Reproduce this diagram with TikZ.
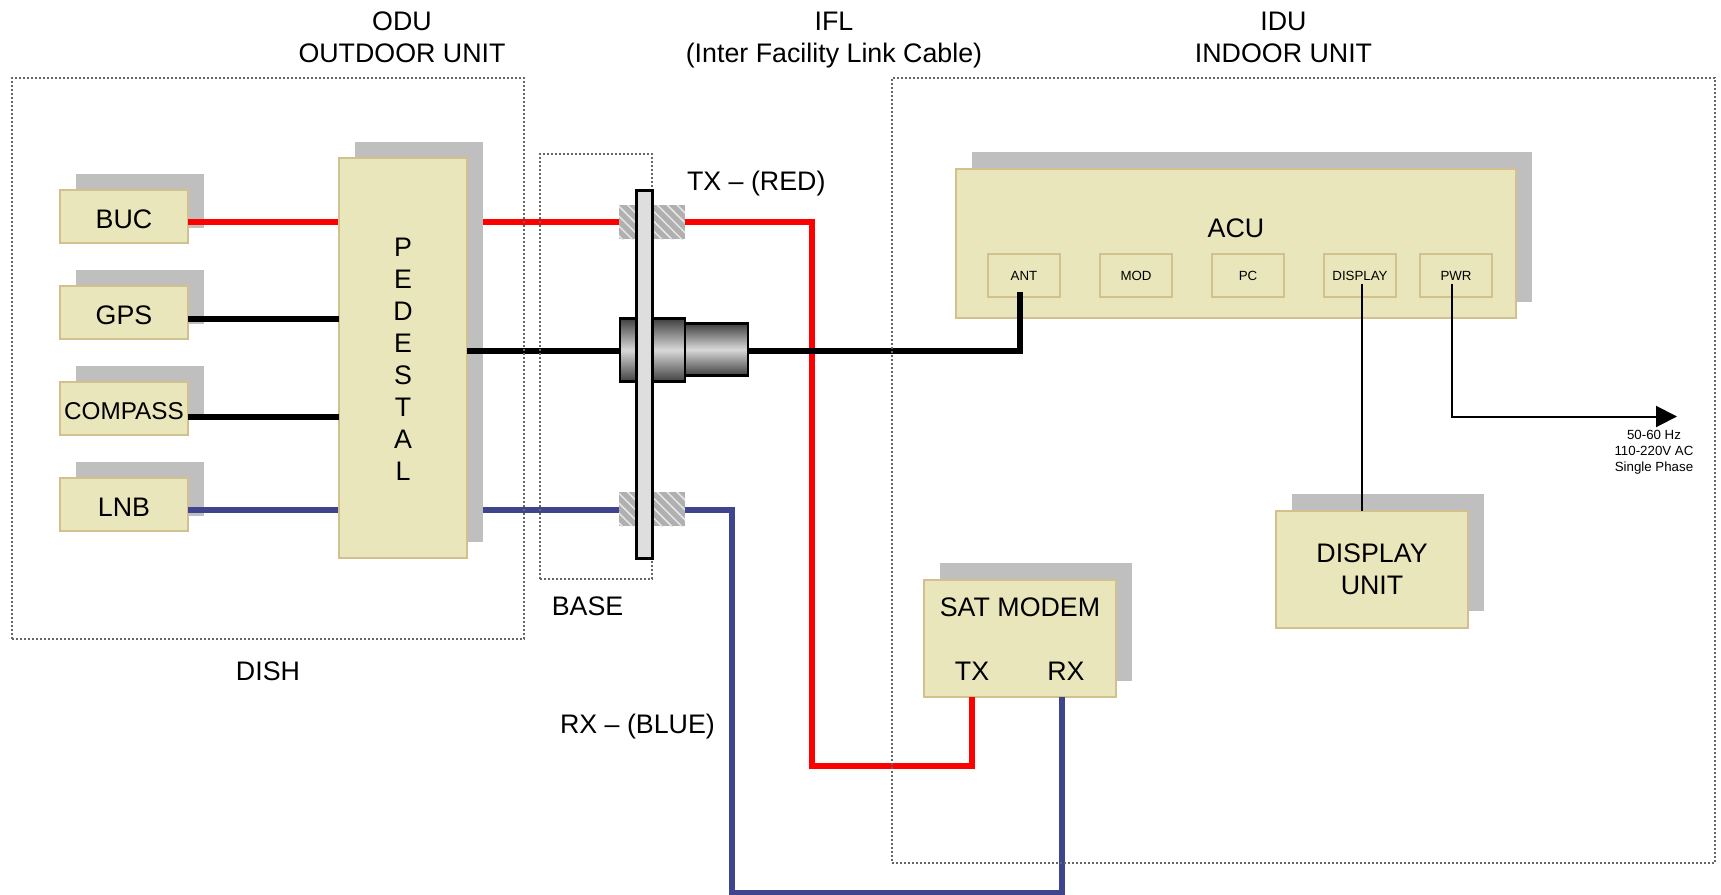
\documentclass[tikz,border=0pt]{standalone}
\usepackage{fontspec}
\setmainfont{Liberation Sans}
\usetikzlibrary{arrows.meta,patterns.meta,calc}
\definecolor{boxfill}{HTML}{E8E6BA}
\definecolor{boxline}{HTML}{D2C08E}
\definecolor{shadowgray}{HTML}{BFBFBF}
\definecolor{wireblue}{HTML}{3F448F}
\definecolor{hatchgray}{HTML}{B0B0B0}
\newcommand{\bigfont}{\fontsize{26.8}{32}\selectfont}
\newcommand{\tinyfont}{\fontsize{13.3}{16}\selectfont}
\newcommand{\lowered}[1]{\raisebox{0pt}[23.5pt][0pt]{#1}}
\tikzset{
  x=1pt,y=-1pt,
  every node/.style={inner sep=0pt,outer sep=0pt},
  label27/.style={font=\bigfont,align=center,text=black},
  unitbox/.style={draw=boxline,fill=boxfill,line width=2pt,anchor=north west,font=\bigfont,align=center},
  portbox/.style={draw=boxline,fill=boxfill,line width=1.5pt,anchor=north west,minimum width=72pt,minimum height=43pt,font=\tinyfont},
  shadowbox/.style={fill=shadowgray,anchor=north west},
  redwire/.style={draw=red,line width=6pt,line join=miter},
  bluewire/.style={draw=wireblue,line width=6pt,line join=miter},
  blackwire/.style={draw=black,line width=6pt,line join=miter},
  thinwire/.style={draw=black,line width=2pt,line join=miter},
  dotbox/.style={draw=black!60,line width=1.2pt,dash pattern=on 2pt off 2pt,anchor=north west},
  hatchbox/.style={anchor=north west,preaction={fill=hatchgray},
    pattern={Lines[angle=-45,distance=7pt,line width=1.5pt]},pattern color=white!70!hatchgray},
  barrel/.style={draw=black,line width=2.5pt,anchor=north west,top color=black!75,bottom color=black!75,middle color=black!15},
}
\begin{document}
\begin{tikzpicture}
\useasboundingbox (0,0) rectangle (1721,894);
\fill[white] (0,0) rectangle (1721,894);

% shadows of the small outdoor units
\node[shadowbox,minimum width=128pt,minimum height=54pt] (bucs) at (76,174) {};
\node[shadowbox,minimum width=128pt,minimum height=54pt] (gpss) at (76,270) {};
\node[shadowbox,minimum width=128pt,minimum height=54pt] (coms) at (76,366) {};
\node[shadowbox,minimum width=128pt,minimum height=54pt] (lnbs) at (76,462) {};

% outdoor units
\node[unitbox,minimum width=128pt,minimum height=53pt] (buc) at (60,190) {\lowered{BUC}};
\node[unitbox,minimum width=128pt,minimum height=53pt] (gps) at (60,286) {\lowered{GPS}};
\node[unitbox,minimum width=128pt,minimum height=53pt,font=\fontsize{24.3}{28}\selectfont] (compass) at (60,382) {\raisebox{0pt}[21.5pt][0pt]{COMPASS}};
\node[unitbox,minimum width=128pt,minimum height=53pt] (lnb) at (60,478) {\lowered{LNB}};

% junction levels
\coordinate (ytx) at (0,222);
\coordinate (ygps) at (0,318.5);
\coordinate (yifl) at (0,350.5);
\coordinate (ycom) at (0,416.5);
\coordinate (yrx) at (0,510);
\coordinate (redbend) at (812,222);
\coordinate (redlow) at (812,766);
\coordinate (bluebend) at (732,510);
\coordinate (bluelow) at (732,892.5);
\coordinate (modemtx) at (972,766);
\coordinate (modemrx) at (1062,892.5);
\coordinate (antbend) at (1020,350.5);
\coordinate (antend) at (1020,292);
\coordinate (dispstart) at (1362,284);
\coordinate (pwrstart) at (1452,284);
\coordinate (pwrbend) at (1452,416.5);
\coordinate (pwrend) at (1677,416.5);

% hatched feed-throughs
\node[hatchbox,minimum width=66pt,minimum height=34pt] (hatchtx) at (619,205) {};
\node[hatchbox,minimum width=66pt,minimum height=34pt] (hatchrx) at (619,492) {};

% wires that pass behind the pedestal
\draw[redwire] (buc.east |- ytx) -- (hatchtx.west |- ytx);
\draw[bluewire] (lnb.east |- yrx) -- (hatchrx.west |- yrx);

% pedestal
\node[shadowbox,minimum width=128pt,minimum height=400pt] (peds) at (355,142) {};
\node[unitbox,minimum width=128pt,minimum height=400pt] (pedestal) at (339,158) {};
\node[label27] (pedl) at (403,359) {P\\E\\D\\E\\S\\T\\A\\L};

\draw[blackwire] (gps.east |- ygps) -- (pedestal.west |- ygps);
\draw[blackwire] (compass.east |- ycom) -- (pedestal.west |- ycom);

% connector barrels
\node[barrel,minimum width=65pt,minimum height=63pt] (collar) at (620,318.5) {};
\node[barrel,minimum width=63pt,minimum height=52pt] (plug) at (685,323.5) {};
\draw[blackwire] (pedestal.east |- yifl) -- (collar.west |- yifl);

% indoor units
\node[shadowbox,minimum width=560pt,minimum height=150pt] (acus) at (972,152) {};
\node[unitbox,minimum width=560pt,minimum height=149pt] (acu) at (956,169) {};
\node[label27] (acul) at (1236,228.5) {ACU};
\node[portbox] (ant) at (988,254) {ANT};
\node[portbox] (mod) at (1100,254) {MOD};
\node[portbox] (pc) at (1212,254) {PC};
\node[portbox] (disp) at (1324,254) {DISPLAY};
\node[portbox] (pwr) at (1420,254) {PWR};

\node[shadowbox,minimum width=192pt,minimum height=118pt] (sats) at (940,563) {};
\node[unitbox,minimum width=192pt,minimum height=117pt] (sat) at (924,580) {};
\node[label27] (satl) at (1020,607) {SAT MODEM};
\node[label27] (sattx) at (972,671) {TX};
\node[label27] (satrx) at (1066,671) {RX};

\node[shadowbox,minimum width=192pt,minimum height=117pt] (dus) at (1292,494) {};
\node[unitbox,minimum width=192pt,minimum height=117pt] (du) at (1276,510.5) {};
\node[label27] (dul) at (1372,569) {DISPLAY\\UNIT};

% long wires
\draw[redwire] (hatchtx.east |- ytx) -- (redbend) -- (redlow) -- (modemtx) -- (sat.south -| modemtx);
\draw[bluewire] (hatchrx.east |- yrx) -- (bluebend) -- (bluelow) -- (modemrx) -- (sat.south -| modemrx);
\draw[blackwire] (plug.east |- yifl) -- (antbend) -- (antend);
\draw[thinwire] (dispstart) -- (du.north -| dispstart);
\draw[thinwire,-{Triangle[length=21pt,width=21pt]}] (pwrstart) -- (pwrbend) -- (pwrend);

% dotted enclosures
\node[dotbox,minimum width=512pt,minimum height=561pt] (odu) at (12,78) {};
\node[dotbox,minimum width=823pt,minimum height=785pt] (idu) at (892,78) {};
\node[dotbox,minimum width=112pt,minimum height=425pt] (basebox) at (540,154) {};

% mounting plate
\node[draw=black,fill=black!13,line width=3pt,anchor=north west,minimum width=16pt,minimum height=368pt] (plate) at (636.5,190) {};

% labels
\node[label27] (odul) at (402,37) {ODU\\OUTDOOR UNIT};
\node[label27] (ifll) at (834,40) {IFL\\(Inter Facility Link Cable)};
\node[label27] (idul) at (1283.5,37) {IDU\\INDOOR UNIT};
\node[label27] (dishl) at (268,671.5) {DISH};
\node[label27] (basel) at (587.5,606.5) {BASE};
\node[label27,anchor=west] (txl) at (687,184) {TX – (RED)};
\node[label27,anchor=west] (rxl) at (560,727) {RX – (BLUE)};
\node[font=\tinyfont,align=center] (acl) at (1654,452) {50-60 Hz\\110-220V AC\\Single Phase};
\end{tikzpicture}
\end{document}
